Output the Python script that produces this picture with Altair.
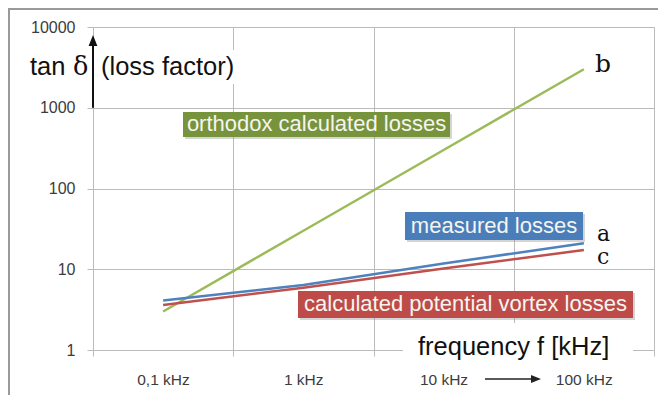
import altair as alt
import pandas as pd

# ---- data ----
categories = ["0,1 kHz", "1 kHz", "10 kHz", "100 kHz"]
orthodox = [3, 30, 300, 3000]        # b
measured = [4.1, 6.4, 11.8, 21]      # a
vortex = [3.6, 5.9, 10.2, 17.3]      # c
series_names = ["orthodox", "measured", "vortex"]
series_colors = ["#9BBB59", "#4F81BD", "#C0504D"]
y_ticks = [1, 10, 100, 1000, 10000]
x_bounds = [-0.5, 0.5, 1.5, 2.5, 3.5]

rows = []
for name, vals in zip(series_names, [orthodox, measured, vortex]):
    for i, v in enumerate(vals):
        rows.append({"pos": i, "value": v, "series": name})
df = pd.DataFrame(rows)

W, H = 561, 323
GRID = "#BBBBBB"
SANS = "Liberation Sans"
SERIF = "DejaVu Serif"

xs = alt.Scale(domain=[-0.5, 3.5], nice=False, zero=False)
ys = alt.Scale(type="log", domain=[1, 10000], nice=False)

cat_js = "[" + ",".join("'" + c + "'" for c in categories) + "]"

x_axis = alt.Axis(values=x_bounds, grid=True, gridColor=GRID, domain=False,
                  ticks=True, tickColor=GRID, tickSize=6, title=None,
                  labelExpr=cat_js + "[round(datum.value + 0.5)] || ''",
                  labelOffset=70, labelOverlap=False, labelBound=False,
                  labelFlush=False, labelPadding=16, labelFont=SANS,
                  labelFontSize=15.5, labelColor="#3c3c3c")
y_axis = alt.Axis(values=y_ticks, format="d", grid=True, gridColor=GRID,
                  domain=False, ticks=True, tickColor=GRID, tickSize=6,
                  title=None, labelPadding=12, labelFont=SANS,
                  labelFontSize=16, labelColor="#3c3c3c",
                  labelOverlap=False, labelFlush=False)

base = alt.Chart(df)

# white boxes that hide gridlines behind the axis captions
white = pd.DataFrame({
    "x": [-0.4572, 1.7103], "x2": [0.5339, 3.3503],
    "y": [5190, 2.16], "y2": [1968, 0.7102]})
white_l = alt.Chart(white).mark_rect(color="white").encode(
    x=alt.X("x:Q", scale=xs, axis=x_axis), x2="x2:Q",
    y=alt.Y("y:Q", scale=ys, axis=y_axis), y2="y2:Q")

lines = base.mark_line(strokeWidth=2.5).encode(
    x=alt.X("pos:Q", scale=xs),
    y=alt.Y("value:Q", scale=ys),
    color=alt.Color("series:N", scale=alt.Scale(domain=series_names, range=series_colors), legend=None),
    detail="series:N")

boxes = pd.DataFrame({
    "x": [0.1417, 1.7246, 0.9617], "x2": [2.0455, 2.9938, 3.3503],
    "y": [885.6, 51.17, 5.379], "y2": [434.4, 23.02, 2.49],
    "c": ["#77933C", "#4A7EBB", "#BE4B48"]})
shadow_l = alt.Chart(boxes).mark_rect(color="#888888", opacity=0.35, xOffset=2, yOffset=2,
                                      x2Offset=2, y2Offset=2).encode(
    x=alt.X("x:Q", scale=xs), x2="x2:Q", y=alt.Y("y:Q", scale=ys), y2="y2:Q")
box_l = alt.Chart(boxes).mark_rect().encode(
    x=alt.X("x:Q", scale=xs), x2="x2:Q", y=alt.Y("y:Q", scale=ys), y2="y2:Q",
    color=alt.Color("c:N", scale=None))

box_text = pd.DataFrame({
    "x": [1.0936, 2.3592, 2.1560], "y": [620.3, 34.32, 3.66],
    "t": ["orthodox calculated losses", "measured losses", "calculated potential vortex losses"]})
box_text_l = alt.Chart(box_text).mark_text(font=SANS, fontSize=22, color="#F5F5F0",
                                           align="center", baseline="middle").encode(
    x=alt.X("x:Q", scale=xs), y=alt.Y("y:Q", scale=ys), text="t:N")

cap = pd.DataFrame({
    "x": [1.8173, -0.4430, -0.9492], "y": [0.867, 2544, 2544],
    "t": ["frequency f [kHz]", "(loss factor)", "tan"]})
cap_l = alt.Chart(cap).mark_text(font=SANS, fontSize=25.5, color="#111111",
                                 align="left", baseline="alphabetic").encode(
    x=alt.X("x:Q", scale=xs), y=alt.Y("y:Q", scale=ys), text="t:N")

serif = pd.DataFrame({
    "x": [-0.6426, 3.0794, 3.0936, 3.0936], "y": [2544, 2772, 22.39, 11.61],
    "t": ["δ", "b", "a", "c"], "s": [25.5, 25, 22, 22]})
serif_l = alt.Chart(serif).mark_text(font=SERIF, color="#111111", align="left",
                                     baseline="alphabetic").encode(
    x=alt.X("x:Q", scale=xs), y=alt.Y("y:Q", scale=ys), text="t:N",
    size=alt.Size("s:Q", scale=None))

# arrows
v_arrow = pd.DataFrame({"x": [-0.5], "y": [1000], "y2": [7200]})
v_arrow_l = alt.Chart(v_arrow).mark_rule(color="#111111", strokeWidth=2).encode(
    x=alt.X("x:Q", scale=xs), y=alt.Y("y:Q", scale=ys), y2="y2:Q")
v_head = pd.DataFrame({"x": [-0.5], "y": [6804]})
v_head_l = alt.Chart(v_head).mark_point(shape="M0,-1L-0.8,1L0.8,1Z", filled=True, size=121,
                                        color="#111111", opacity=1).encode(
    x=alt.X("x:Q", scale=xs), y=alt.Y("y:Q", scale=ys))

h_arrow = pd.DataFrame({"x": [2.2950], "x2": [2.6373], "y": [0.4375]})
h_arrow_l = alt.Chart(h_arrow).mark_rule(color="#222222", strokeWidth=1.5).encode(
    x=alt.X("x:Q", scale=xs), x2="x2:Q", y=alt.Y("y:Q", scale=ys))
h_head = pd.DataFrame({"x": [2.6587], "y": [0.4375]})
h_head_l = alt.Chart(h_head).mark_point(shape="M1,0L-1,-0.8L-1,0.8Z", filled=True, size=100,
                                        color="#222222", opacity=1).encode(
    x=alt.X("x:Q", scale=xs), y=alt.Y("y:Q", scale=ys))

# outer frame (top and left edge of the picture frame)
frame_top = alt.Chart(pd.DataFrame({"a": [0]})).mark_rule(color="#9A9A9A", strokeWidth=2).encode(
    x=alt.value(-85), x2=alt.value(W + 20), y=alt.value(-18))
frame_left = alt.Chart(pd.DataFrame({"a": [0]})).mark_rule(color="#9A9A9A", strokeWidth=2).encode(
    x=alt.value(-84), y=alt.value(-19), y2=alt.value(H + 80))

chart = alt.layer(
    white_l, lines, shadow_l, box_l, box_text_l, cap_l, serif_l,
    v_arrow_l, v_head_l, h_arrow_l, h_head_l, frame_top, frame_left
).properties(
    width=W, height=H,
    autosize=alt.AutoSizeParams(type="none"),
    padding={"left": 85, "top": 19, "right": 4, "bottom": 45},
    background="white"
).configure_view(stroke=None)

chart.save("out.html", embed_options={"renderer": "svg", "actions": False})
